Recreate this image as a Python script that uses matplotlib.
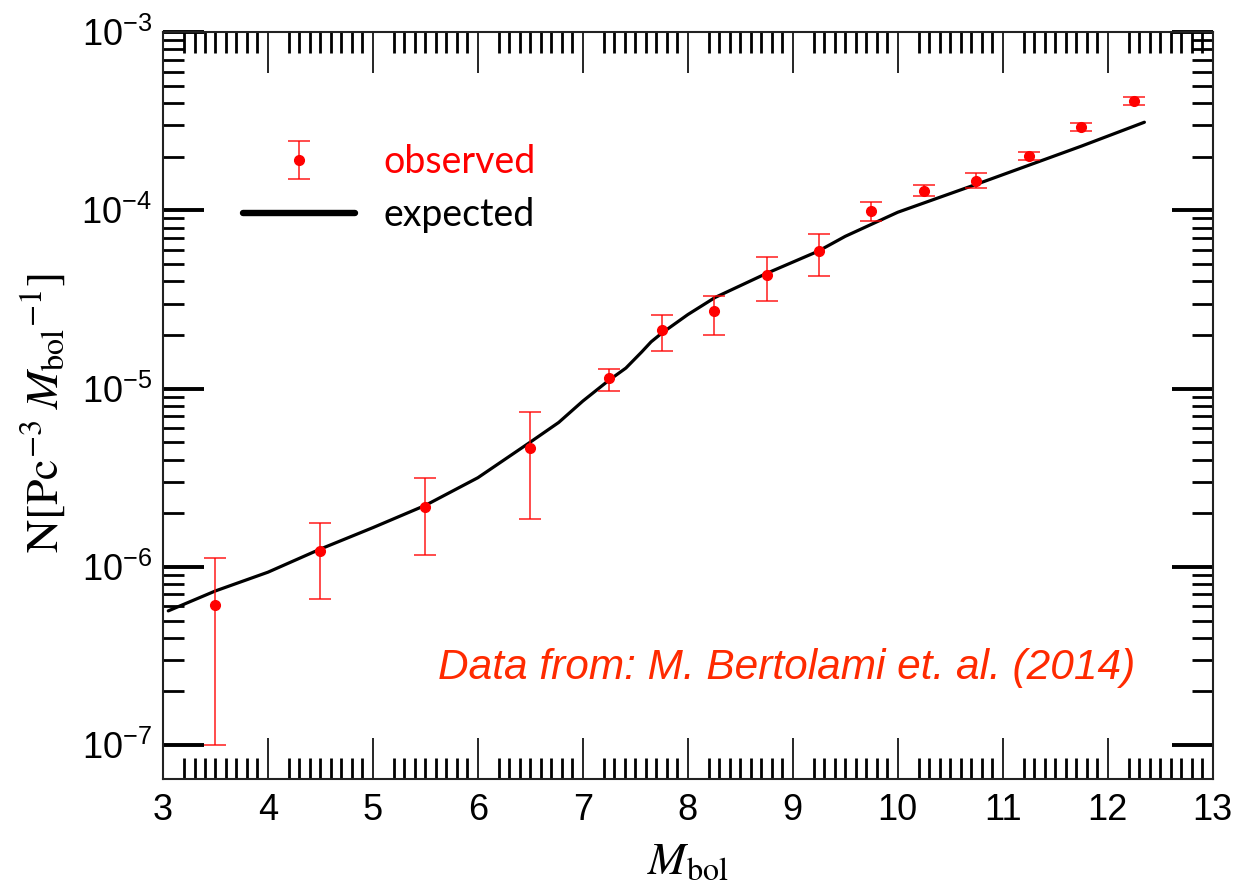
import matplotlib
matplotlib.use('Agg')
import matplotlib.pyplot as plt
import matplotlib.ticker as ticker
import numpy as np

plt.rcParams['mathtext.fontset'] = 'custom'
plt.rcParams['mathtext.rm'] = 'Liberation Sans'
plt.rcParams['mathtext.it'] = 'Liberation Sans:italic'
plt.rcParams['font.family'] = 'Liberation Sans'

# observed white dwarf luminosity function (Bertolami et al. 2014)
mbol_obs = np.array([3.5, 4.5, 5.5, 6.5, 7.25, 7.75, 8.25, 8.75, 9.25, 9.75,
                     10.25, 10.75, 11.25, 11.75, 12.25])
n_obs = np.array([6.1e-7, 1.23e-6, 2.17e-6, 4.67e-6, 1.14e-5, 2.12e-5, 2.71e-5,
                  4.32e-5, 5.89e-5, 9.87e-5, 1.29e-4, 1.46e-4, 2.01e-4, 2.92e-4, 4.09e-4])
n_hi = np.array([1.12e-6, 1.77e-6, 3.16e-6, 7.43e-6, 1.29e-5, 2.6e-5, 3.29e-5,
                 5.44e-5, 7.33e-5, 1.12e-4, 1.38e-4, 1.61e-4, 2.12e-4, 3.08e-4, 4.3e-4])
n_lo = np.array([1.0e-7, 6.6e-7, 1.17e-6, 1.86e-6, 9.75e-6, 1.63e-5, 2.01e-5,
                 3.08e-5, 4.26e-5, 8.67e-5, 1.21e-4, 1.33e-4, 1.91e-4, 2.78e-4, 3.9e-4])

# expected curve
mbol_exp = np.array([3.05, 3.5, 4.0, 4.5, 5.0, 5.5, 6.0, 6.5, 6.77, 7.0, 7.245,
                     7.41, 7.56, 7.65, 7.75, 8.0, 8.26, 8.75, 9.24, 9.5, 10.0,
                     10.75, 11.25, 11.75, 12.35])
logn_exp = np.array([-6.247, -6.135, -6.03, -5.90, -5.78, -5.655, -5.50, -5.30,
                     -5.19, -5.07, -4.955, -4.885, -4.795, -4.738, -4.69, -4.585,
                     -4.489, -4.354, -4.23, -4.146, -4.011, -3.854, -3.747,
                     -3.64, -3.506])
n_exp = 10.0 ** logn_exp

fig = plt.figure(figsize=(12.54, 8.92), dpi=100)
ax = fig.add_axes([0.130, 0.1267, 0.837, 0.8374])

h1, = ax.plot(mbol_exp, n_exp, color='k', lw=2.3, solid_capstyle='round',
              solid_joinstyle='round')
h2 = ax.errorbar(mbol_obs, n_obs, yerr=[n_obs - n_lo, n_hi - n_obs], fmt='o',
                 color='red', ms=7, ecolor=(1, 0, 0, 0.7), elinewidth=1.4,
                 capsize=8, capthick=1.4)

ax.set_yscale('log')
ax.set_xlim(3, 13)
ax.set_ylim(10 ** -7.19, 1e-3)

ax.xaxis.set_major_locator(ticker.MultipleLocator(1))
xminor = [n + f / 10 for n in range(3, 13) for f in range(2, 10)]
ax.xaxis.set_minor_locator(ticker.FixedLocator(xminor))
ax.yaxis.set_major_locator(ticker.FixedLocator([1e-7, 1e-6, 1e-5, 1e-4, 1e-3]))
yminor = [s * 10.0 ** e for e in range(-7, -3) for s in range(2, 10)]
ax.yaxis.set_minor_locator(ticker.FixedLocator(yminor))
ax.yaxis.set_major_formatter(ticker.FuncFormatter(
    lambda v, p: r'$10^{%d}$' % int(round(np.log10(v)))))
ax.yaxis.set_minor_formatter(ticker.NullFormatter())

ax.tick_params(which='both', direction='in', top=True, right=True, colors='k')
ax.tick_params(axis='x', which='major', length=29.5, width=1.2, labelsize=26, pad=10)
ax.tick_params(axis='x', which='minor', length=15, width=2)
ax.tick_params(axis='y', which='major', length=29.5, width=2.8, labelsize=26, pad=8)
ax.tick_params(axis='y', which='minor', length=15, width=2)
for s in ax.spines.values():
    s.set_linewidth(1.5)
    s.set_color('#222222')

ax.set_xlabel(r'$M_{\mathrm{bol}}$', fontsize=33, math_fontfamily='stix',
              va='center')
ax.xaxis.set_label_coords(0.5, -0.111)
ax.set_ylabel(r'$\mathrm{N[Pc}^{-3}\;M_{\mathrm{bol}}{}^{-1}\mathrm{]}$', fontsize=33,
              math_fontfamily='stix', va='center')
ax.yaxis.set_label_coords(-0.114, 0.49)

leg = ax.legend([h2, h1], ['observed', 'expected'], loc='upper left',
                bbox_to_anchor=(0.076, 0.85), frameon=False, borderpad=0,
                borderaxespad=0, handlelength=3.0, handletextpad=0.75,
                labelspacing=0.45, prop={'family': 'Lato', 'size': 27})
leg.legend_handles[1].set_linewidth(4.6)
leg.get_texts()[0].set_color('red')

ax.text(0.926, 0.149, 'Data from: M. Bertolami et. al. (2014)', transform=ax.transAxes,
        ha='right', va='center', fontsize=30.5, style='italic', color='#FF2A00')

fig.savefig('out.png', dpi=100)
